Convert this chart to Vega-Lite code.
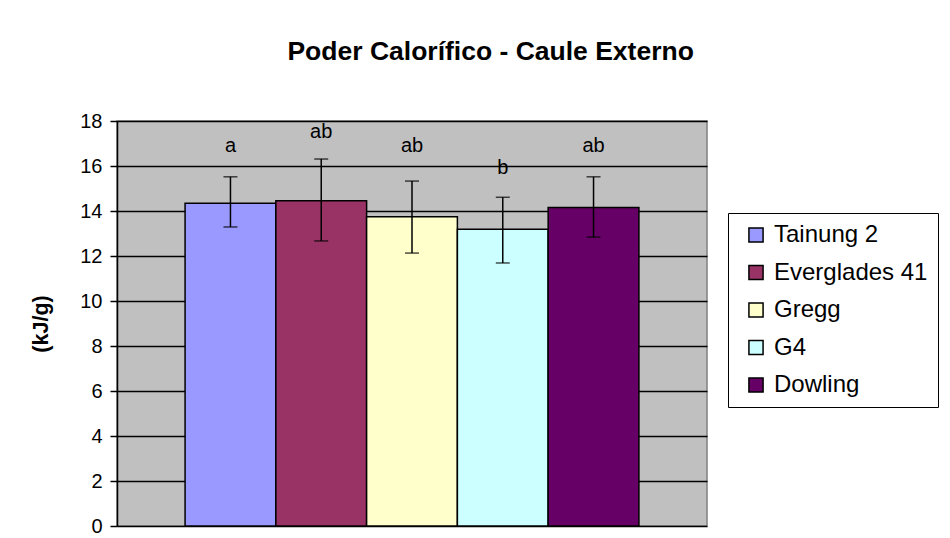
{
  "$schema": "https://vega.github.io/schema/vega-lite/v6.json",
  "width": 590,
  "height": 405,
  "autosize": {"type": "none"},
  "padding": {"left": 117, "top": 121, "right": 243, "bottom": 12},
  "background": "white",
  "title": {
    "text": "Poder Calorífico - Caule Externo",
    "font": "Liberation Sans",
    "fontSize": 26.5,
    "fontWeight": "bold",
    "color": "black",
    "anchor": "middle",
    "frame": "bounds",
    "dx": 6,
    "offset": 46
  },
  "data": {
    "values": [
      {"variety": "Tainung 2", "mean": 14.34, "lo": 13.29, "hi": 15.52, "letter": "a", "letterY": 16.89},
      {"variety": "Everglades 41", "mean": 14.46, "lo": 12.67, "hi": 16.31, "letter": "ab", "letterY": 17.52},
      {"variety": "Gregg", "mean": 13.75, "lo": 12.13, "hi": 15.33, "letter": "ab", "letterY": 16.89},
      {"variety": "G4", "mean": 13.19, "lo": 11.69, "hi": 14.61, "letter": "b", "letterY": 15.91},
      {"variety": "Dowling", "mean": 14.16, "lo": 12.84, "hi": 15.52, "letter": "ab", "letterY": 16.89}
    ]
  },
  "encoding": {
    "x": {
      "field": "variety",
      "type": "nominal",
      "sort": null,
      "scale": {"paddingInner": 0, "paddingOuter": 0.75},
      "axis": null
    }
  },
  "layer": [
    {
      "mark": {"type": "bar", "stroke": "black", "strokeWidth": 1.5},
      "encoding": {
        "y": {
          "field": "mean",
          "type": "quantitative",
          "scale": {"domain": [0, 18], "nice": false},
          "axis": {
            "values": [0, 2, 4, 6, 8, 10, 12, 14, 16, 18],
            "title": "(kJ/g)",
            "titleFont": "Liberation Sans",
            "titleFontSize": 21.5,
            "titleFontWeight": "bold",
            "titleColor": "black",
            "titlePadding": 27,
            "labelFont": "Liberation Sans",
            "labelFontSize": 20,
            "labelColor": "black",
            "labelPadding": 8,
            "tickSize": 7,
            "tickColor": "black",
            "tickWidth": 1.5,
            "domainColor": "black",
            "domainWidth": 1.5,
            "grid": true,
            "gridColor": "black",
            "gridWidth": 1.5
          }
        },
        "color": {
          "field": "variety",
          "type": "nominal",
          "sort": null,
          "scale": {
            "domain": ["Tainung 2", "Everglades 41", "Gregg", "G4", "Dowling"],
            "range": ["#9999FF", "#993366", "#FFFFCC", "#CCFFFF", "#660066"]
          },
          "legend": {
            "title": null,
            "orient": "none",
            "legendX": 611,
            "legendY": 92,
            "strokeColor": "black",
            "fillColor": "white",
            "padding": 10,
            "symbolOffset": 6,
            "symbolType": "square",
            "symbolSize": 200,
            "symbolStrokeColor": "black",
            "symbolStrokeWidth": 1.5,
            "symbolOpacity": 1,
            "labelFont": "Liberation Sans",
            "labelFontSize": 24,
            "labelColor": "black",
            "labelOffset": 6,
            "rowPadding": 13.5,
            "labelLimit": 300
          }
        }
      }
    },
    {
      "mark": {"type": "rule", "color": "black", "strokeWidth": 1.5},
      "encoding": {
        "y": {"field": "lo", "type": "quantitative"},
        "y2": {"field": "hi"}
      }
    },
    {
      "mark": {"type": "tick", "color": "black", "size": 14, "thickness": 1.5, "orient": "horizontal"},
      "encoding": {"y": {"field": "lo", "type": "quantitative"}}
    },
    {
      "mark": {"type": "tick", "color": "black", "size": 14, "thickness": 1.5, "orient": "horizontal"},
      "encoding": {"y": {"field": "hi", "type": "quantitative"}}
    },
    {
      "mark": {"type": "text", "font": "Liberation Sans", "fontSize": 20, "color": "black", "baseline": "middle", "align": "center"},
      "encoding": {
        "y": {"field": "letterY", "type": "quantitative"},
        "text": {"field": "letter"}
      }
    }
  ],
  "config": {
    "view": {"fill": "#C0C0C0", "stroke": "#808080", "strokeWidth": 1.5}
  }
}
